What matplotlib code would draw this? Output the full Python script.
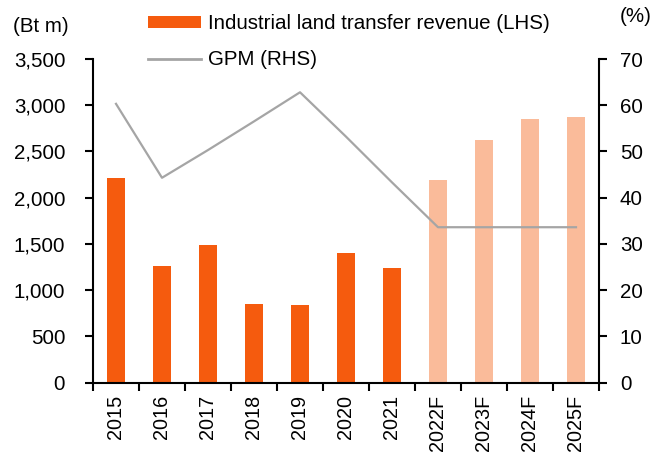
import numpy as np
import matplotlib.pyplot as plt
from matplotlib.patches import Patch
from matplotlib.lines import Line2D

plt.rcParams['font.family'] = ['Liberation Sans', 'DejaVu Sans']

# данные
years = ['2015', '2016', '2017', '2018', '2019', '2020', '2021',
         '2022F', '2023F', '2024F', '2025F']
revenue = [2210, 1265, 1490, 848, 842, 1400, 1242, 2187, 2620, 2847, 2868]
gpm = [60.3, 44.3, 50.3, 56.5, 62.8, 53.2, 43.3, 33.6, 33.6, 33.6, 33.6]
is_forecast = [False] * 7 + [True] * 4

dark = '#F55B0E'
light = '#FABB9A'
grey = '#A5A5A5'
fs = 14.8

fig = plt.figure(figsize=(6.72, 4.54), dpi=100)
ax = fig.add_axes([93 / 672, 1 - 382.5 / 454, (599 - 93) / 672, (382.5 - 59) / 454])

x = np.arange(len(years))
colors = [light if f else dark for f in is_forecast]
ax.bar(x, revenue, width=0.4, color=colors, zorder=2)

ax.set_xlim(-0.5, len(years) - 0.5)
ax.set_ylim(0, 3500)
ax.set_yticks(np.arange(0, 3501, 500))
ax.set_yticklabels([f'{v:,}' for v in range(0, 3501, 500)])

# x: метки по центру, риски на границах
ax.set_xticks(np.arange(-0.5, len(years), 1.0))
ax.set_xticklabels([])
ax.set_xticks(x, minor=True)
ax.set_xticklabels(years, minor=True, rotation=90)
ax.tick_params(axis='x', which='major', length=6, width=1.5, direction='out')
ax.tick_params(axis='x', which='minor', length=0, pad=9, labelsize=fs - 0.5)
ax.tick_params(axis='y', length=6, width=1.5, direction='out', pad=14, labelsize=fs)

for s in ['top', 'right']:
    ax.spines[s].set_visible(False)
for s in ['left', 'bottom']:
    ax.spines[s].set_linewidth(1.5)

ax2 = ax.twinx()
ax2.plot(x, gpm, color=grey, linewidth=1.6, zorder=3)
ax2.set_ylim(0, 70)
ax2.set_yticks(np.arange(0, 71, 10))
ax2.tick_params(axis='y', length=6, width=1.5, direction='out', pad=9, labelsize=fs)
ax2.spines['top'].set_visible(False)
ax2.spines['left'].set_visible(False)
ax2.spines['bottom'].set_visible(False)
ax2.spines['right'].set_linewidth(1.5)

fig.text(13 / 672, 1 - 27 / 454, '(Bt m)', fontsize=fs, va='center', ha='left')
fig.text(620 / 672, 1 - 17 / 454, '(%)', fontsize=fs, va='center', ha='left')

handles = [Patch(facecolor=dark, edgecolor='none'),
           Line2D([0], [0], color=grey, linewidth=2)]
labels = ['Industrial land transfer revenue (LHS)', 'GPM (RHS)']
fig.legend(handles, labels, loc='upper left', bbox_to_anchor=(148 / 672, 1 - 14 / 454),
           frameon=False, fontsize=fs, borderpad=0, borderaxespad=0,
           handlelength=2.6, handleheight=0.5, handletextpad=0.3, labelspacing=0.85)

fig.savefig('out.png', dpi=100)
